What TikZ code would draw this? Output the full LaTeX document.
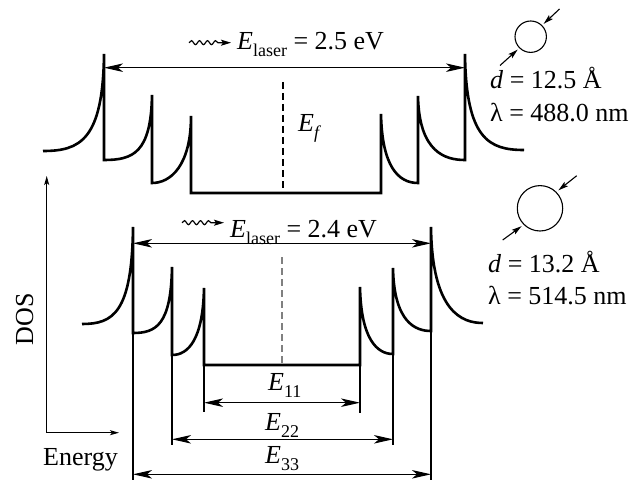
\documentclass[tikz,border=0pt]{standalone}
\usepackage{fontspec}
\setmainfont{Liberation Serif}
\usetikzlibrary{arrows.meta,decorations.pathmorphing}
\newcommand\lsub[1]{\raisebox{-7pt}{\fontsize{18}{20}\selectfont #1}}
\begin{document}
\begin{tikzpicture}[x=1pt,y=-1pt,
  dos/.style={line width=2.6pt},
  thinline/.style={line width=1.1pt},
  dimarrow/.style={line width=1.1pt,{Stealth[length=19pt,width=8.5pt,inset=5pt]}-{Stealth[length=19pt,width=8.5pt,inset=5pt]}},
  smallarrow/.style={line width=1.1pt,-{Stealth[length=10pt,width=5.5pt,inset=2pt]}},
  axisarrow/.style={line width=1.1pt,-{Stealth[length=9pt,width=5pt,inset=2pt]}},
  wavy/.style={line width=1.2pt,decorate,decoration={snake,amplitude=2pt,segment length=8pt,post length=10pt},-{Stealth[length=10pt,width=6pt,inset=2pt]}},
  fermi/.style={line width=1.1pt,dash pattern=on 7pt off 4pt},
  tube/.style={circle,draw,line width=1.1pt,inner sep=0pt},
  lbl/.style={font=\fontsize{26}{30}\selectfont,inner sep=0pt}]
\useasboundingbox (0,0) rectangle (639,481);

% ---------- top DOS ----------
\draw[dos] (43,151) .. controls (80,151) and (103,140) .. (104,54)
  -- (104,160) .. controls (133,160) and (151,153) .. (152,95)
  -- (152,183) .. controls (171,183) and (191,165) .. (191,116)
  -- (191,193) -- (381,193) -- (381,114)
  .. controls (382,166) and (398,183) .. (418,183)
  -- (418,96) .. controls (419,153) and (446,160) .. (465,160)
  -- (465,54) .. controls (466,139) and (489,150) .. (524,150);
\coordinate (tL) at (104,67.7);
\coordinate (tR) at (465,67.7);
\draw[dimarrow] (tL) -- (tR);
\coordinate (tf1) at (283,82);
\coordinate (tf2) at (283,193);
\draw[fermi] (tf1) -- (tf2);
\coordinate (tw1) at (189,42.7);
\coordinate (tw2) at (231,42.7);
\draw[wavy] (tw1) -- (tw2);
\node[lbl,anchor=base west] (tlaser) at (237,50) {\textit{E}\lsub{laser} = 2.5 eV};
\node[lbl,anchor=base west] (ef) at (298,131.7) {\textit{E}\lsub{\textit{f}}};

\node[tube,minimum size=31.4pt] (c1) at (530.7,36.7) {};
\coordinate (c1a) at (500,65.5);
\coordinate (c1b) at (559.5,9);
\draw[smallarrow,shorten >=2pt] (c1a) -- (c1.south west);
\draw[smallarrow,shorten >=2pt] (c1b) -- (c1.north east);
\node[lbl,anchor=base west] (d1) at (490,89) {\textit{d} = 12.5 Å};
\node[lbl,anchor=base west] (l1) at (490,122) {λ = 488.0 nm};

% ---------- bottom DOS ----------
\draw[dos] (82,324) .. controls (113,324) and (132,313) .. (133,227)
  -- (133,333) .. controls (156,333) and (171,325) .. (172,267)
  -- (172,355) .. controls (188,355) and (203,340) .. (204,288)
  -- (204,365) -- (360,365) -- (360,287)
  .. controls (361,339) and (377,354) .. (393,354)
  -- (393,268) .. controls (394,323) and (416,331) .. (431,331)
  -- (431,227) .. controls (432,312) and (462,323) .. (483,323);

\coordinate (b1) at (133,333);
\coordinate (b2) at (172,355);
\coordinate (b3) at (204,365);
\coordinate (b4) at (360,365);
\coordinate (b5) at (393,354);
\coordinate (b6) at (431,331);
\coordinate (b1e) at (133,480);
\coordinate (b2e) at (172,445);
\coordinate (b3e) at (204,412);
\coordinate (b4e) at (360,413);
\coordinate (b5e) at (393,445);
\coordinate (b6e) at (431,480);
\draw[thinline] (b1) -- (b1e);
\draw[thinline] (b2) -- (b2e);
\draw[thinline] (b3) -- (b3e);
\draw[thinline] (b4) -- (b4e);
\draw[thinline] (b5) -- (b5e);
\draw[thinline] (b6) -- (b6e);

\coordinate (bL) at (133,243.3);
\coordinate (bR) at (431,243.3);
\draw[dimarrow] (bL) -- (bR);
\coordinate (e11a) at (204,402.7);
\coordinate (e11b) at (360,402.7);
\draw[dimarrow] (e11a) -- (e11b);
\coordinate (e22a) at (172,439.3);
\coordinate (e22b) at (393,439.3);
\draw[dimarrow] (e22a) -- (e22b);
\coordinate (e33a) at (133,474.3);
\coordinate (e33b) at (431,474.3);
\draw[dimarrow] (e33a) -- (e33b);

\coordinate (bf1) at (282,257);
\coordinate (bf2) at (282,365);
\draw[fermi,gray] (bf1) -- (bf2);

\coordinate (bw1) at (182,222.7);
\coordinate (bw2) at (224,222.7);
\draw[wavy] (bw1) -- (bw2);
\node[lbl,anchor=base west] (blaser) at (230,237.3) {\textit{E}\lsub{laser} = 2.4 eV};

\node[lbl,anchor=base west] (l11) at (268,390.7) {\textit{E}\lsub{11}};
\node[lbl,anchor=base west] (l22) at (265,430) {\textit{E}\lsub{22}};
\node[lbl,anchor=base west] (l33) at (265,463) {\textit{E}\lsub{33}};

\node[tube,minimum size=45.4pt] (c2) at (540,208.3) {};
\coordinate (c2a) at (502.7,240);
\coordinate (c2b) at (576.7,175.7);
\draw[smallarrow,shorten >=2.5pt] (c2a) -- (c2.south west);
\draw[smallarrow,shorten >=2.5pt] (c2b) -- (c2.north east);
\node[lbl,anchor=base west] (d2) at (488,272.7) {\textit{d} = 13.2 Å};
\node[lbl,anchor=base west] (l2) at (488,304) {λ = 514.5 nm};

% ---------- axes ----------
\coordinate (o) at (46.7,432.7);
\coordinate (ytip) at (46.7,176);
\coordinate (xtip) at (119,432.7);
\draw[axisarrow] (o) -- (ytip);
\draw[axisarrow] (o) -- (xtip);
\node[lbl,rotate=90,anchor=base] (dos) at (33,319) {DOS};
\node[lbl,anchor=base west] (en) at (43,465) {Energy};
\end{tikzpicture}
\end{document}
